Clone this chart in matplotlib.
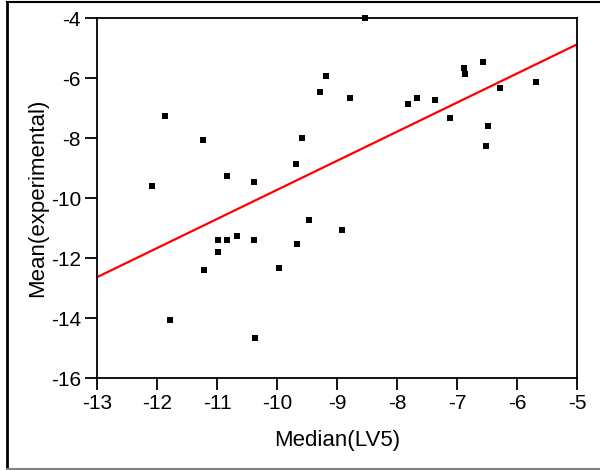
import numpy as np
import matplotlib
matplotlib.use('Agg')
import matplotlib.pyplot as plt
from matplotlib.lines import Line2D

plt.rcParams['font.family'] = ['Liberation Sans', 'DejaVu Sans']
plt.rcParams['axes.unicode_minus'] = False

# data
median_lv5 = [-8.53, -11.86, -12.09, -11.23, -11.79, -10.83, -10.39, -10.99,
              -10.99, -10.83, -10.66, -10.39, -11.22, -10.36, -9.96, -9.66,
              -9.69, -9.59, -9.29, -9.19, -9.46, -8.92, -8.79, -7.82,
              -7.66, -7.36, -7.12, -6.89, -6.86, -6.56, -6.49, -6.52,
              -6.29, -5.69]
mean_exp = [-4.0, -7.27, -9.6, -8.08, -14.07, -9.27, -9.47, -11.4,
            -11.8, -11.4, -11.27, -11.4, -12.4, -14.67, -12.33, -11.53,
            -8.87, -8.0, -6.47, -5.93, -10.73, -11.07, -6.67, -6.87,
            -6.67, -6.73, -7.33, -5.67, -5.87, -5.47, -7.6, -8.27,
            -6.33, -6.13]

# fitted line (slope, intercept)
fit_slope = 0.97
fit_intercept = 0.97 * 5 - 4.88

fig = plt.figure(figsize=(6, 4.7), dpi=100)
ax = fig.add_axes([97/600, 1 - 378/470, 480/600, 360/470])

ax.scatter(median_lv5, mean_exp, marker='s', s=22, color='black', zorder=3,
           clip_on=False, linewidths=0)
xs = np.array([-13, -5])
ax.plot(xs, fit_slope * xs + fit_intercept, color='red', lw=1.6, zorder=2)

ax.set_xlim(-13, -5)
ax.set_ylim(-16, -4)
ax.set_xticks(range(-13, -4))
ax.set_yticks(range(-16, -3, 2))
ax.tick_params(direction='out', length=8.5, width=1.3, labelsize=15, pad=3)
for s in ax.spines.values():
    s.set_linewidth(1.3)

ax.set_xlabel('Median(LV5)', fontsize=16, labelpad=12)
ax.set_ylabel('Mean(experimental)', fontsize=16, labelpad=2)

# outer frame: black top and left, gray bottom, no right side
fig.lines.append(Line2D([7/600, 1], [1 - 2/470, 1 - 2/470],
                        transform=fig.transFigure, color='black', lw=1.5))
fig.lines.append(Line2D([7/600, 7/600], [1 - 2/470, 1 - 469/470],
                        transform=fig.transFigure, color='black', lw=2))
fig.lines.append(Line2D([7/600, 1], [1 - 469/470, 1 - 469/470],
                        transform=fig.transFigure, color='#808080', lw=1.5))

fig.savefig('out.png', dpi=100)
